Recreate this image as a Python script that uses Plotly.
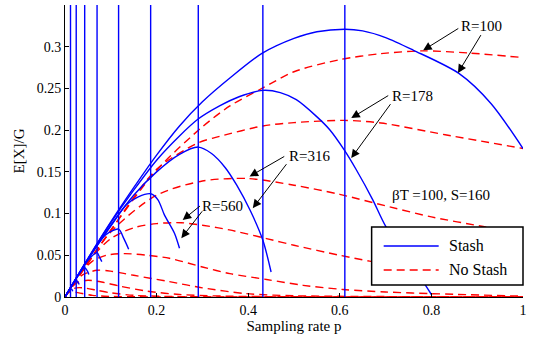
import plotly.graph_objects as go

# ---------------- data ----------------
R_values = [100, 178, 316, 560, 1000, 1778, 3162, 5623, 10000]

# Stash curves (solid blue)
stash_x_100 = [0, 0.05, 0.1, 0.15, 0.2, 0.25, 0.3, 0.36, 0.43, 0.5, 0.55, 0.611, 0.65, 0.7, 0.76, 0.86, 0.93, 1.0]
stash_y_100 = [0, 0.046, 0.09, 0.131, 0.17, 0.205, 0.234, 0.2625, 0.292, 0.31, 0.318, 0.321, 0.319, 0.311, 0.296, 0.268, 0.232, 0.178]
stash_x_178 = [0, 0.05, 0.1, 0.15, 0.2, 0.25, 0.29, 0.3375, 0.38, 0.432, 0.47, 0.505, 0.549, 0.578, 0.61, 0.636, 0.672, 0.70, 0.75, 0.80]
stash_y_178 = [0, 0.046, 0.089, 0.128, 0.164, 0.193, 0.213, 0.229, 0.240, 0.2477, 0.245, 0.2365, 0.2165, 0.2005, 0.176, 0.1525, 0.1165, 0.085, 0.045, 0.003]
stash_x_316 = [0, 0.05, 0.1, 0.15, 0.2, 0.25, 0.291, 0.32, 0.35, 0.375, 0.405, 0.432, 0.45]
stash_y_316 = [0, 0.045, 0.086, 0.122, 0.15, 0.171, 0.1797, 0.172, 0.155, 0.134, 0.103, 0.068, 0.030]
stash_x_560 = [0, 0.05, 0.1, 0.134, 0.16, 0.187, 0.203, 0.217, 0.239, 0.25]
stash_y_560 = [0, 0.045, 0.085, 0.1105, 0.12, 0.1237, 0.1165, 0.0985, 0.0765, 0.0584]
stash_x_1000 = [0, 0.04, 0.07, 0.09, 0.117, 0.128, 0.139]
stash_y_1000 = [0, 0.036, 0.062, 0.075, 0.0813, 0.0705, 0.0573]
stash_x_1778 = [0, 0.03, 0.05, 0.070, 0.0754, 0.0804]
stash_y_1778 = [0, 0.027, 0.044, 0.0532, 0.0477, 0.0424]
stash_x_3162 = [0, 0.02, 0.035, 0.043, 0.049, 0.052]
stash_y_3162 = [0, 0.018, 0.031, 0.035, 0.031, 0.027]
stash_x_5623 = [0, 0.015, 0.0245, 0.028, 0.031]
stash_y_5623 = [0, 0.0135, 0.02, 0.018, 0.015]
stash_x_10000 = [0, 0.008, 0.012, 0.015, 0.017]
stash_y_10000 = [0, 0.007, 0.010, 0.009, 0.007]

# Peak markers (vertical blue lines)
peak_p = [0.012, 0.0245, 0.043, 0.070, 0.117, 0.187, 0.291, 0.432, 0.611]

# No-stash curves (dashed red)
ns_x_100 = [0, 0.1, 0.2, 0.3, 0.36, 0.43, 0.5, 0.6, 0.69, 0.78, 0.88, 1.0]
ns_y_100 = [0, 0.08, 0.152, 0.204, 0.229, 0.25, 0.27, 0.2845, 0.2917, 0.295, 0.2925, 0.287]
ns_x_178 = [0, 0.1, 0.2, 0.29, 0.3375, 0.432, 0.5, 0.61, 0.69, 0.83, 1.0]
ns_y_178 = [0, 0.08, 0.153, 0.1845, 0.1925, 0.205, 0.209, 0.2117, 0.2085, 0.1945, 0.178]
ns_x_316 = [0, 0.1, 0.2, 0.3, 0.4, 0.5, 0.6, 0.709, 0.8, 0.913, 1.0]
ns_y_316 = [0, 0.078, 0.122, 0.139, 0.142, 0.134, 0.123, 0.108, 0.096, 0.0845, 0.076]
ns_x_560 = [0, 0.05, 0.1, 0.15, 0.2, 0.254, 0.3, 0.359, 0.44, 0.5, 0.6, 0.665, 0.75, 0.85, 1.0]
ns_y_560 = [0, 0.042, 0.07, 0.083, 0.088, 0.089, 0.086, 0.0804, 0.07, 0.062, 0.05, 0.043, 0.035, 0.027, 0.018]
ns_x_1000 = [0, 0.03, 0.06, 0.09, 0.13, 0.18, 0.228, 0.3, 0.36, 0.44, 0.52, 0.607, 0.7, 0.8, 1.0]
ns_y_1000 = [0, 0.026, 0.043, 0.05, 0.052, 0.05, 0.0464, 0.036, 0.028, 0.021, 0.014, 0.009, 0.006, 0.004, 0.001]
ns_x_1778 = [0, 0.02, 0.04, 0.07, 0.1, 0.15, 0.228, 0.3, 0.396, 0.5, 0.7, 1.0]
ns_y_1778 = [0, 0.017, 0.027, 0.032, 0.031, 0.026, 0.0184, 0.011, 0.004, 0.0015, 0.0005, 0]
ns_x_3162 = [0, 0.015, 0.03, 0.05, 0.08, 0.12, 0.18, 0.25, 0.35, 1.0]
ns_y_3162 = [0, 0.012, 0.018, 0.02, 0.018, 0.013, 0.007, 0.003, 0.001, 0]
ns_x_5623 = [0, 0.01, 0.025, 0.04, 0.07, 0.1, 0.15, 0.25, 1.0]
ns_y_5623 = [0, 0.008, 0.011, 0.011, 0.008, 0.005, 0.002, 0.0005, 0]
ns_x_10000 = [0, 0.006, 0.015, 0.03, 0.06, 0.1, 1.0]
ns_y_10000 = [0, 0.005, 0.0065, 0.005, 0.002, 0.0007, 0]

x_ticks = [0, 0.2, 0.4, 0.6, 0.8, 1]
x_tick_labels = ["0", "0.2", "0.4", "0.6", "0.8", "1"]
y_ticks = [0, 0.05, 0.1, 0.15, 0.2, 0.25, 0.3]
y_tick_labels = ["0", "0.05", "0.1", "0.15", "0.2", "0.25", "0.3"]

# label: (text, text_x, text_y, [(tail_x, tail_y, tip_x, tip_y), ...])
labels = [
    ("R=100", 0.910, 0.3253, [(0.862, 0.3230, 0.782, 0.2957), (0.910, 0.3157, 0.858, 0.2685)]),
    ("R=178", 0.758, 0.2413, [(0.709, 0.2425, 0.625, 0.2145), (0.713, 0.2329, 0.625, 0.1665)]),
    ("R=316", 0.534, 0.1693, [(0.482, 0.1695, 0.403, 0.1445), (0.486, 0.1610, 0.410, 0.1065)]),
    ("R=560", 0.344, 0.1092, [(0.298, 0.1105, 0.257, 0.0924), (0.302, 0.1045, 0.254, 0.0705)]),
]
param_text = "βT =100, S=160"
param_pos = (0.822, 0.1224)

legend_names = ["Stash", "No Stash"]

# ---------------- figure ----------------
BLUE = "#0000ff"
RED = "#ff0000"
FONT = "Liberation Serif, Times New Roman, serif"
DASH = "8px,5px"

stash_x = [stash_x_100, stash_x_178, stash_x_316, stash_x_560, stash_x_1000,
           stash_x_1778, stash_x_3162, stash_x_5623, stash_x_10000]
stash_y = [stash_y_100, stash_y_178, stash_y_316, stash_y_560, stash_y_1000,
           stash_y_1778, stash_y_3162, stash_y_5623, stash_y_10000]
ns_x = [ns_x_100, ns_x_178, ns_x_316, ns_x_560, ns_x_1000,
        ns_x_1778, ns_x_3162, ns_x_5623, ns_x_10000]
ns_y = [ns_y_100, ns_y_178, ns_y_316, ns_y_560, ns_y_1000,
        ns_y_1778, ns_y_3162, ns_y_5623, ns_y_10000]

fig = go.Figure()

for i, R in enumerate(R_values):
    fig.add_trace(go.Scatter(
        x=ns_x[i], y=ns_y[i], mode="lines",
        line=dict(color=RED, width=1.4, dash=DASH, shape="spline", smoothing=0.8),
        name=legend_names[1], showlegend=False, hoverinfo="skip"))

for i, R in enumerate(R_values):
    fig.add_trace(go.Scatter(
        x=stash_x[i], y=stash_y[i], mode="lines",
        line=dict(color=BLUE, width=1.4, shape="spline", smoothing=0.8),
        name=legend_names[0], showlegend=False, hoverinfo="skip"))

for p in peak_p:
    fig.add_trace(go.Scatter(
        x=[p, p], y=[0, 0.35], mode="lines",
        line=dict(color=BLUE, width=1.4), showlegend=False, hoverinfo="skip"))

for text, tx, ty, arrows in labels:
    fig.add_annotation(x=tx, y=ty, text=text, showarrow=False,
                       font=dict(family=FONT, size=15, color="black"))
    for (ax_, ay_, x_, y_) in arrows:
        fig.add_annotation(x=x_, y=y_, ax=ax_, ay=ay_, axref="x", ayref="y",
                           text="", showarrow=True, arrowhead=2, arrowsize=1.7,
                           arrowwidth=1, arrowcolor="black")

fig.add_annotation(x=param_pos[0], y=param_pos[1], text=param_text, showarrow=False,
                   font=dict(family=FONT, size=15, color="black"))

# legend box (drawn in paper coordinates over the plot area)
fig.add_shape(type="rect", xref="paper", yref="paper", x0=0.6695, x1=1.0, y0=0.041, y1=0.2397,
              line=dict(color="black", width=1.5), fillcolor="white", layer="above")
fig.add_shape(type="line", xref="paper", yref="paper", x0=0.6958, x1=0.8159, y0=0.1747, y1=0.1747,
              line=dict(color=BLUE, width=1.4), layer="above")
fig.add_shape(type="line", xref="paper", yref="paper", x0=0.6958, x1=0.8159, y0=0.0925, y1=0.0925,
              line=dict(color=RED, width=1.4, dash=DASH), layer="above")
fig.add_annotation(xref="paper", yref="paper", x=0.8335, y=0.1747, text=legend_names[0],
                   showarrow=False, xanchor="left", yanchor="middle",
                   font=dict(family=FONT, size=16, color="black"))
fig.add_annotation(xref="paper", yref="paper", x=0.8335, y=0.0925, text=legend_names[1],
                   showarrow=False, xanchor="left", yanchor="middle",
                   font=dict(family=FONT, size=16, color="black"))

fig.update_layout(
    width=534, height=341,
    margin=dict(l=65, r=11, t=5, b=44, autoexpand=False),
    paper_bgcolor="white", plot_bgcolor="white",
    font=dict(family=FONT, size=14, color="black"),
    showlegend=False,
)
fig.update_xaxes(range=[0, 1], tickvals=x_ticks, ticktext=x_tick_labels,
                 ticks="inside", ticklen=4, tickcolor="black",
                 showline=True, linecolor="black", linewidth=1, showgrid=False,
                 zeroline=False, title=dict(text="Sampling rate p", standoff=2,
                                            font=dict(size=15)))
fig.update_yaxes(range=[0, 0.35], tickvals=y_ticks, ticktext=y_tick_labels,
                 ticks="inside", ticklen=4, tickcolor="black",
                 showline=True, linecolor="black", linewidth=1, showgrid=False,
                 zeroline=False, title=dict(text="E[X]/G", standoff=8,
                                            font=dict(size=15)))

fig.write_html("out.html", config={"displayModeBar": False},
               post_script="document.body.style.margin='0px';")
